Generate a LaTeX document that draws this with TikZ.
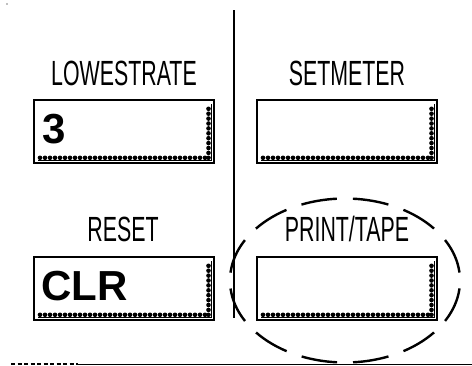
\documentclass[tikz,border=0pt]{standalone}
\usepackage{fontspec}
\setmainfont{Liberation Sans}
\newfontfamily\narrowfont[FakeStretch=0.61]{Liberation Sans}
\usetikzlibrary{calc}

% beaded shading along the bottom and right inner edges of a display box
\newcommand\beads[1]{%
  \draw[line width=1pt] ($(#1.south west)+(5,-3.2)$) -- ($(#1.south east)+(-3.2,-3.2)$)
    -- ($(#1.north east)+(-3.2,5)$);
  \foreach \i in {0,...,33}
    \fill ($(#1.south west)+(7+\i*5,-6.2)$) circle (2.3);
  \foreach \j in {0,...,10}
    \fill ($(#1.south east)+(-6.5,-6.2-\j*4.9)$) circle (2.3);
}

\tikzset{
  dispbox/.style={draw, line width=2pt, minimum width=180pt, minimum height=63pt,
    inner sep=0pt, fill=white},
  keylabel/.style={anchor=base, inner sep=0pt, font=\narrowfont\fontsize{35}{35}\selectfont},
  keyvalue/.style={anchor=base west, inner sep=0pt, font=\bfseries\fontsize{42}{42}\selectfont},
  divider/.style={line width=1.8pt},
  ring/.style={line width=2.4pt, dash pattern=on 36pt off 15.93pt, dash phase=43.97pt},
}

\begin{document}
\begin{tikzpicture}[x=1pt,y=-1pt]
  \useasboundingbox (0,0) rectangle (472,365);

  % tiny speck in the corner
  \fill[gray] (7,4) circle (0.8);

  % vertical divider
  \coordinate (vtop) at (234,10);
  \coordinate (vbot) at (234,318);
  \draw[divider] (vtop) -- (vbot);

  % display boxes
  \node[dispbox] (lowest) at (124,131.5) {};
  \node[dispbox] (meter)  at (347,131.5) {};
  \node[dispbox] (reset)  at (124,288.5) {};
  \node[dispbox] (print)  at (347,288.5) {};
  \beads{lowest}
  \beads{meter}
  \beads{reset}
  \beads{print}

  % key labels
  \node[keylabel] (tlowest) at (124,85) {LOWESTRATE};
  \node[keylabel] (tmeter)  at (347,85) {SETMETER};
  \node[keylabel] (treset)  at (123,241) {RESET};
  \node[keylabel] (tprint)  at (347,241) {PRINT/TAPE};

  % displayed values
  \node[keyvalue] (vlowest) at (42,143) {3};
  \node[keyvalue] (vreset)  at (41,300) {CLR};

  % dashed ring round the print/tape key, drawn from its top point
  \coordinate (ringtop) at (345,198.5);
  \draw[ring] (ringtop) arc[start angle=-90, end angle=270, x radius=115, y radius=82];

  % bottom rule
  \coordinate (ra) at (11,364);
  \coordinate (rb) at (78,364);
  \coordinate (rc) at (472,364);
  \draw[line width=1.8pt, dash pattern=on 4pt off 2.5pt] (ra) -- (rb);
  \draw[line width=1pt] (rb) -- (rc);
\end{tikzpicture}
\end{document}
